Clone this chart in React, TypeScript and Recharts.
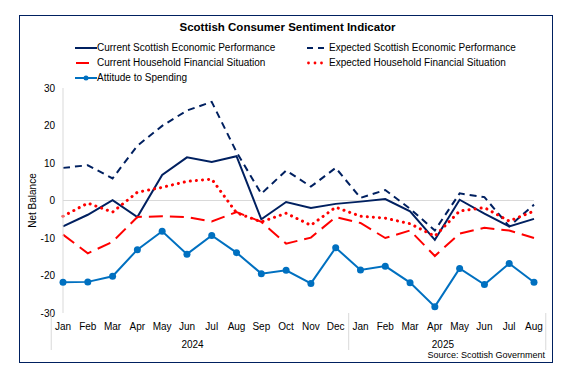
import React from "react";
import { ComposedChart, Line, XAxis, YAxis, ReferenceLine } from "recharts";

const months = ["Jan", "Feb", "Mar", "Apr", "May", "Jun", "Jul", "Aug", "Sep", "Oct", "Nov", "Dec", "Jan", "Feb", "Mar", "Apr", "May", "Jun", "Jul", "Aug"];
const years = ["2024", "2024", "2024", "2024", "2024", "2024", "2024", "2024", "2024", "2024", "2024", "2024", "2025", "2025", "2025", "2025", "2025", "2025", "2025", "2025"];

const currentEcon = [-6.9, -3.8, 0.1, -4.4, 6.8, 11.5, 10.3, 11.8, -5, -0.4, -2, -0.9, -0.3, 0.4, -2.9, -10.5, 0.2, -3.5, -6.9, -4.9];
const expectedEcon = [8.7, 9.4, 5.9, 14.6, 19.9, 24, 26.3, 12.9, 1.8, 8, 3.7, 8.7, 0.7, 2.8, -2.2, -8, 1.9, 0.9, -6.9, -1.1];
const currentHousehold = [-9.1, -14.1, -11, -4.4, -4.2, -4.4, -5.6, -3.1, -5.7, -11.5, -9.9, -4.4, -6, -10, -8, -14.8, -8.8, -7.3, -8, -10];
const expectedHousehold = [-4.2, -0.7, -3.1, 2.2, 3.5, 5.1, 5.7, -3.3, -5.7, -3.4, -6.6, -1.8, -4.2, -4.7, -6.2, -9.5, -2.8, -1.9, -5.5, -2.8];
const attitude = [-21.8, -21.7, -20.2, -13.1, -8.2, -14.3, -9.3, -13.9, -19.5, -18.6, -22.1, -12.6, -18.5, -17.5, -21.9, -28.3, -18.1, -22.4, -16.8, -21.8];

const yTicks = [-30, -20, -10, 0, 10, 20, 30];

const data = months.map((m, i) => ({
  month: m,
  year: years[i],
  currentEcon: currentEcon[i],
  expectedEcon: expectedEcon[i],
  currentHousehold: currentHousehold[i],
  expectedHousehold: expectedHousehold[i],
  attitude: attitude[i],
}));

const NAVY = "#002060";
const RED = "#FF0000";
const BLUE = "#0070C0";
const GREY = "#D9D9D9";
const FONT = "'Liberation Sans', Arial, sans-serif";

const W = 575;
const H = 378;
const MARGIN = { top: 88, right: 41, left: 0, bottom: 25 };
const Y_AXIS_W = 63;
const BAND = (W - MARGIN.left - MARGIN.right - Y_AXIS_W) / months.length;

const MonthTick = ({ x, y, payload, index }: any) => {
  const i = index;
  const isFirstOfYear = i === 0 || years[i] !== years[i - 1];
  const isLast = i === months.length - 1;
  const axisTop = y - 8;
  let yearLabel = null;
  if (isFirstOfYear) {
    const count = years.filter((yr) => yr === years[i]).length;
    yearLabel = (
      <text x={x - BAND / 2 + (count * BAND) / 2} y={y + 27} textAnchor="middle" fontSize={10} fill="#000" fontFamily={FONT}>
        {years[i]}
      </text>
    );
  }
  return (
    <g>
      {isFirstOfYear && <line x1={x - BAND / 2} x2={x - BAND / 2} y1={axisTop} y2={axisTop + 37} stroke={GREY} />}
      {isLast && <line x1={x + BAND / 2} x2={x + BAND / 2} y1={axisTop} y2={axisTop + 37} stroke={GREY} />}
      <text x={x} y={y + 9} textAnchor="middle" fontSize={10} fill="#000" fontFamily={FONT}>
        {payload.value}
      </text>
      {yearLabel}
    </g>
  );
};

const legendItems = [
  { label: "Current Scottish Economic Performance", kind: "solid", col: 0, row: 0 },
  { label: "Expected Scottish Economic Performance", kind: "dash", col: 1, row: 0 },
  { label: "Current Household Financial Situation", kind: "redDash", col: 0, row: 1 },
  { label: "Expected Household Financial Situation", kind: "dots", col: 1, row: 1 },
  { label: "Attitude to Spending", kind: "marker", col: 0, row: 2 },
];

const LegendIcon = ({ kind }: { kind: string }) => {
  return (
    <svg width={22} height={8} style={{ display: "block" }}>
      {kind === "solid" && <line x1={0} x2={22} y1={4} y2={4} stroke={NAVY} strokeWidth={2} />}
      {kind === "dash" && <line x1={0} x2={19} y1={4} y2={4} stroke={NAVY} strokeWidth={2} strokeDasharray="6 5" />}
      {kind === "redDash" && <line x1={1} x2={14} y1={4} y2={4} stroke={RED} strokeWidth={2} />}
      {kind === "dots" && (
        <g fill={RED}>
          <circle cx={1.5} cy={4} r={1.4} />
          <circle cx={8} cy={4} r={1.4} />
          <circle cx={14.5} cy={4} r={1.4} />
        </g>
      )}
      {kind === "marker" && (
        <g>
          <line x1={0} x2={22} y1={4} y2={4} stroke={BLUE} strokeWidth={2} />
          <circle cx={11} cy={4} r={2.5} fill={BLUE} />
        </g>
      )}
    </svg>
  );
};

export default function App() {
  return (
    <div style={{ position: "fixed", top: 0, left: 0, width: W, height: H, background: "#fff", fontFamily: FONT }}>
      <div style={{ position: "absolute", left: 19, top: 15, width: 532, height: 346, border: `1.5px solid ${NAVY}` }} />
      <div style={{ position: "absolute", top: 21, left: 0, width: W, textAlign: "center", fontSize: 11.5, fontWeight: "bold", color: "#000" }}>
        Scottish Consumer Sentiment Indicator
      </div>
      {legendItems.map((it) => (
        <div
          key={it.label}
          style={{
            position: "absolute",
            left: it.col === 0 ? 75 : 307,
            top: 42 + it.row * 15,
            display: "flex",
            alignItems: "center",
            fontSize: 10,
            color: "#000",
            whiteSpace: "nowrap",
          }}
        >
          <LegendIcon kind={it.kind} />
          <span>{it.label}</span>
        </div>
      ))}
      <div style={{ position: "absolute", top: 350, right: 30, fontSize: 9, color: "#000" }}>Source: Scottish Government</div>
      <div style={{ position: "absolute", top: 0, left: 0 }}>
        <ComposedChart width={W} height={H} data={data} margin={MARGIN}>
          <YAxis
            type="number"
            domain={[-30, 30]}
            ticks={yTicks}
            width={Y_AXIS_W}
            axisLine={{ stroke: GREY }}
            tickLine={false}
            tick={{ fontSize: 10, fill: "#000", fontFamily: FONT }}
            label={{ value: "Net Balance", angle: -90, position: "center", dx: 1, fontSize: 10, fill: "#000", fontFamily: FONT }}
          />
          <XAxis dataKey="month" interval={0} axisLine={false} tickLine={false} height={40} tick={MonthTick} />
          <ReferenceLine y={0} stroke={GREY} strokeWidth={1} />
          <Line dataKey="expectedEcon" stroke={NAVY} strokeWidth={2} strokeDasharray="7 5" dot={false} isAnimationActive={false} />
          <Line dataKey="currentEcon" stroke={NAVY} strokeWidth={2} dot={false} isAnimationActive={false} />
          <Line dataKey="currentHousehold" stroke={RED} strokeWidth={2} strokeDasharray="14 7" dot={false} isAnimationActive={false} />
          <Line dataKey="expectedHousehold" stroke={RED} strokeWidth={3} strokeDasharray="0.1 6" strokeLinecap="round" dot={false} isAnimationActive={false} />
          <Line dataKey="attitude" stroke={BLUE} strokeWidth={2} dot={{ r: 3.5, fill: BLUE, stroke: BLUE, strokeWidth: 0 }} isAnimationActive={false} />
        </ComposedChart>
      </div>
    </div>
  );
}
